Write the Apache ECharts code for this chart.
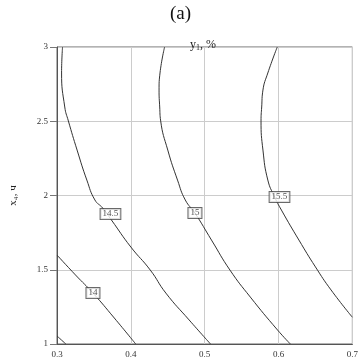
<!DOCTYPE html>
<html><head><meta charset="utf-8">
<script src="https://cdn.jsdelivr.net/npm/echarts@6/dist/echarts.min.js"></script>
<style>html,body{margin:0;padding:0;background:#fff}#c{width:361px;height:364px}</style>
</head><body><div id="c"></div>
<script>
// x ticks and y ticks
const xTicks = [0.3, 0.4, 0.5, 0.6, 0.7];
const yTicks = [1, 1.5, 2, 2.5, 3];
// contour levels and lines (x, y)
const c135 = [[0.3, 1.054], [0.312, 1.0]];
const c14 = [[0.3, 1.599], [0.325, 1.465], [0.3487, 1.343], [0.3776, 1.175], [0.4066, 1.0]];
const c145 = [[0.3075, 3.0], [0.3062, 2.825], [0.3105, 2.596], [0.3154, 2.502], [0.3272, 2.306],
  [0.3404, 2.104], [0.3513, 1.970], [0.3618, 1.916], [0.3737, 1.835], [0.4, 1.653],
  [0.4263, 1.498], [0.4474, 1.343], [0.4789, 1.162], [0.5079, 1.0]];
const c15 = [[0.4457, 3.0], [0.4395, 2.825], [0.4382, 2.710], [0.4391, 2.596], [0.4404, 2.502],
  [0.45, 2.306], [0.4632, 2.104], [0.4737, 1.970], [0.4868, 1.882], [0.5092, 1.700],
  [0.5342, 1.498], [0.5618, 1.316], [0.5987, 1.094], [0.616, 1.0]];
const c155 = [[0.5983, 3.0], [0.5855, 2.825], [0.5789, 2.710], [0.5772, 2.596], [0.5763, 2.502],
  [0.5789, 2.306], [0.5855, 2.104], [0.5947, 1.990], [0.6039, 1.902], [0.6276, 1.700],
  [0.65, 1.519], [0.6711, 1.364], [0.7, 1.18]];
// contour labels
const labelText = ['14', '14.5', '15', '15.5'];
const labelPos = [[0.3487, 1.343], [0.3724, 1.875], [0.4868, 1.882], [0.6013, 1.99]];

const font = 'Liberation Serif';
const lineStyle = {color: '#333', width: 1};
function contour(d) {
  return {type: 'line', data: d, smooth: 0.5, symbol: 'none', lineStyle: lineStyle, z: 2, animation: false};
}
const chart = echarts.init(document.getElementById('c'));
chart.setOption({
  animation: false,
  title: [{
    text: '(a)', left: 'center', top: 0,
    textStyle: {fontFamily: font, fontSize: 19, fontWeight: 'normal', color: '#111'}
  }, {
    text: '{a|y}{s|1}{a|, %}', left: 185, top: 33,
    textStyle: {fontWeight: 'normal', rich: {a: {fontFamily: font, fontSize: 12, fontWeight: 'normal', color: '#222'},
      s: {fontFamily: font, fontSize: 8, fontWeight: 'normal', color: '#222', verticalAlign: 'bottom', padding: [6, 0, 0, 0]}}}
  }],
  grid: {left: 51, right: 6, top: 47, bottom: 20, show: true, borderColor: '#666', borderWidth: 1},
  xAxis: {
    type: 'value', min: 0.3, max: 0.7, interval: 0.1,
    axisLine: {show: true, lineStyle: {color: '#555'}},
    axisTick: {show: false},
    splitLine: {show: true, lineStyle: {color: '#ccc'}},
    axisLabel: {fontFamily: font, fontSize: 9, color: '#333', margin: 6,
      formatter: v => { const t = xTicks.find(k => Math.abs(k - v) < 1e-6); return t === undefined ? '' : String(t); }}
  },
  yAxis: {
    type: 'value', min: 1, max: 3, interval: 0.5,
    name: 'x₄, ч', nameLocation: 'middle', nameGap: 38, nameRotate: 90,
    nameTextStyle: {fontFamily: font, fontSize: 11, fontWeight: 'normal', color: '#222'},
    axisLine: {show: true, lineStyle: {color: '#555'}},
    axisTick: {show: true, length: 7, lineStyle: {color: '#777'}},
    splitLine: {show: true, lineStyle: {color: '#ccc'}},
    axisLabel: {fontFamily: font, fontSize: 9, color: '#333', margin: 9,
      formatter: v => { const t = yTicks.find(k => Math.abs(k - v) < 1e-6); return t === undefined ? '' : String(t); }}
  },
  series: [
    contour(c135), contour(c14), contour(c145), contour(c15), contour(c155),
    {
      type: 'scatter', symbolSize: 0, z: 5, animation: false,
      data: labelPos.map((p, i) => [p[0], p[1], labelText[i]]),
      label: {
        show: true, position: 'inside', formatter: p => p.data[2],
        fontFamily: font, fontSize: 9, color: '#222',
        backgroundColor: '#fff', borderColor: '#444', borderWidth: 1, padding: [1, 2, 0, 2]
      }
    }
  ]
});
</script></body></html>
